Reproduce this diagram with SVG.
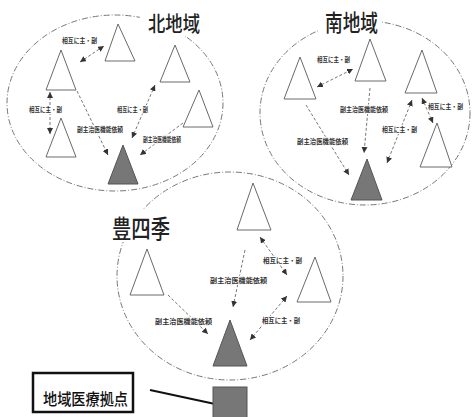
<svg xmlns="http://www.w3.org/2000/svg" width="474" height="417" viewBox="0 0 474 417">
<defs>
<style>
.region{fill:none;stroke:#777;stroke-width:1;stroke-dasharray:6 2 1 2}
.tri{fill:#fff;stroke:#6a6a6a;stroke-width:1}
.hub{fill:#777;stroke:#555;stroke-width:1}
.c{fill:none;stroke:#777;stroke-width:1;stroke-dasharray:3 2}
.lbl{font-family:"Noto Sans CJK JP","Noto Sans CJK SC",sans-serif;font-size:6.5px;font-weight:bold;fill:#333;stroke:#fff;stroke-width:2;paint-order:stroke}
.title{font-family:"Noto Sans CJK JP","Noto Sans CJK SC",sans-serif;font-weight:500;fill:#222}
</style>
<marker id="ah" viewBox="0 0 6 6" refX="6" refY="3" markerWidth="6" markerHeight="6" markerUnits="userSpaceOnUse" orient="auto-start-reverse">
<path d="M0,0 L6,3 L0,6 z" fill="#333"/>
</marker>
</defs>
<rect width="474" height="417" fill="#fff"/>

<g id="regions">
<ellipse class="region" cx="115" cy="103" rx="108" ry="88"/>
<ellipse class="region" cx="365" cy="113" rx="105" ry="92"/>
<ellipse class="region" cx="230" cy="276" rx="113" ry="104"/>
<rect x="140" y="8" width="60" height="28" fill="#fff"/>
<rect x="318" y="4" width="64" height="31" fill="#fff"/>
<rect x="108" y="210" width="66" height="32" fill="#fff"/>
</g>

<g id="title-north"><text class="title" x="148" y="31" font-size="21" textLength="52" lengthAdjust="spacingAndGlyphs">北地域</text></g>
<g id="title-south"><text class="title" x="325" y="31" font-size="23" textLength="53" lengthAdjust="spacingAndGlyphs">南地域</text></g>
<g id="title-toyoshiki"><text class="title" x="112" y="238" font-size="25" textLength="58" lengthAdjust="spacingAndGlyphs">豊四季</text></g>

<!-- North triangles -->
<g id="n-top"><polygon class="tri" points="118,24 105,61 135,61"/></g>
<g id="n-left-upper"><polygon class="tri" points="61,50 46,90 76,90"/></g>
<g id="n-left-lower"><polygon class="tri" points="61,118 46,157 76,157"/></g>
<g id="n-right-upper"><polygon class="tri" points="175,45 160,82 190,82"/></g>
<g id="n-right-lower"><polygon class="tri" points="199,90 183,127 213,127"/></g>
<g id="n-hub"><polygon class="hub" points="123,145 108,184 138,184"/></g>

<!-- South triangles -->
<g id="s-top"><polygon class="tri" points="370,39 355,81 386,81"/></g>
<g id="s-left"><polygon class="tri" points="300,57 284,99 316,99"/></g>
<g id="s-right-upper"><polygon class="tri" points="422,50 405,93 437,93"/></g>
<g id="s-right-lower"><polygon class="tri" points="437,123 420,167 452,167"/></g>
<g id="s-hub"><polygon class="hub" points="367,159 351,200 382,200"/></g>

<!-- Toyoshiki triangles -->
<g id="t-top"><polygon class="tri" points="253,183 237,230 271,230"/></g>
<g id="t-left"><polygon class="tri" points="147,249 130,295 164,295"/></g>
<g id="t-right"><polygon class="tri" points="315,257 297,302 331,302"/></g>
<g id="t-hub"><polygon class="hub" points="230,320 213,366 247,366"/></g>

<g id="connectors">
<line class="c" x1="80" y1="62" x2="104" y2="46" marker-start="url(#ah)" marker-end="url(#ah)"/>
<line class="c" x1="50" y1="92" x2="50" y2="134" marker-start="url(#ah)" marker-end="url(#ah)"/>
<line class="c" x1="77" y1="91" x2="108" y2="155" marker-end="url(#ah)"/>
<line class="c" x1="155" y1="85" x2="132" y2="138" marker-start="url(#ah)" marker-end="url(#ah)"/>
<line class="c" x1="183" y1="123" x2="140" y2="155" marker-end="url(#ah)"/>

<line class="c" x1="317" y1="87" x2="353" y2="69" marker-start="url(#ah)" marker-end="url(#ah)"/>
<line class="c" x1="370" y1="88" x2="364" y2="153" marker-end="url(#ah)"/>
<line class="c" x1="306" y1="105" x2="349" y2="175" marker-end="url(#ah)"/>
<line class="c" x1="412" y1="100" x2="387" y2="163" marker-start="url(#ah)" marker-end="url(#ah)"/>
<line class="c" x1="422" y1="98" x2="433" y2="123" marker-start="url(#ah)" marker-end="url(#ah)"/>

<line class="c" x1="245" y1="250" x2="233" y2="307" marker-end="url(#ah)"/>
<line class="c" x1="168" y1="295" x2="208" y2="334" marker-end="url(#ah)"/>
<line class="c" x1="260" y1="237" x2="287" y2="275" marker-start="url(#ah)" marker-end="url(#ah)"/>
<line class="c" x1="287" y1="296" x2="250" y2="340" marker-start="url(#ah)" marker-end="url(#ah)"/>

<line x1="150" y1="390" x2="229" y2="407" stroke="#111" stroke-width="2"/>
</g>

<g id="labels">
<text class="lbl" x="62" y="43" textLength="35" lengthAdjust="spacingAndGlyphs">相互に主・副</text>
<text class="lbl" x="29" y="112" textLength="33" lengthAdjust="spacingAndGlyphs">相互に主・副</text>
<text class="lbl" x="77" y="132" textLength="46" lengthAdjust="spacingAndGlyphs">副主治医機能依頼</text>
<text class="lbl" x="117" y="112" textLength="31" lengthAdjust="spacingAndGlyphs">相互に主・副</text>
<text class="lbl" x="143" y="142" textLength="38" lengthAdjust="spacingAndGlyphs">副主治医機能依頼</text>

<text class="lbl" x="317" y="62" textLength="33" lengthAdjust="spacingAndGlyphs">相互に主・副</text>
<text class="lbl" x="340" y="112" textLength="48" lengthAdjust="spacingAndGlyphs">副主治医機能依頼</text>
<text class="lbl" x="297" y="144" textLength="51" lengthAdjust="spacingAndGlyphs">副主治医機能依頼</text>
<text class="lbl" x="382" y="132" textLength="35" lengthAdjust="spacingAndGlyphs">相互に主・副</text>
<text class="lbl" x="428" y="109" textLength="35" lengthAdjust="spacingAndGlyphs">相互に主・副</text>

<text class="lbl" x="210" y="283" textLength="57" lengthAdjust="spacingAndGlyphs">副主治医機能依頼</text>
<text class="lbl" x="155" y="324" textLength="57" lengthAdjust="spacingAndGlyphs">副主治医機能依頼</text>
<text class="lbl" x="263" y="263" textLength="39" lengthAdjust="spacingAndGlyphs">相互に主・副</text>
<text class="lbl" x="262" y="323" textLength="38" lengthAdjust="spacingAndGlyphs">相互に主・副</text>
</g>

<g id="base-box">
<rect x="33" y="373" width="100" height="39" fill="#fff" stroke="#111" stroke-width="2.5"/>
<text x="43" y="405" font-family="Noto Sans CJK JP, sans-serif" font-size="16" font-weight="500" fill="#111" textLength="85" lengthAdjust="spacingAndGlyphs">地域医療拠点</text>
</g>
<g id="base-hub"><rect x="213" y="387" width="34" height="32" fill="#777" stroke="#555" stroke-width="1"/></g>
</svg>
